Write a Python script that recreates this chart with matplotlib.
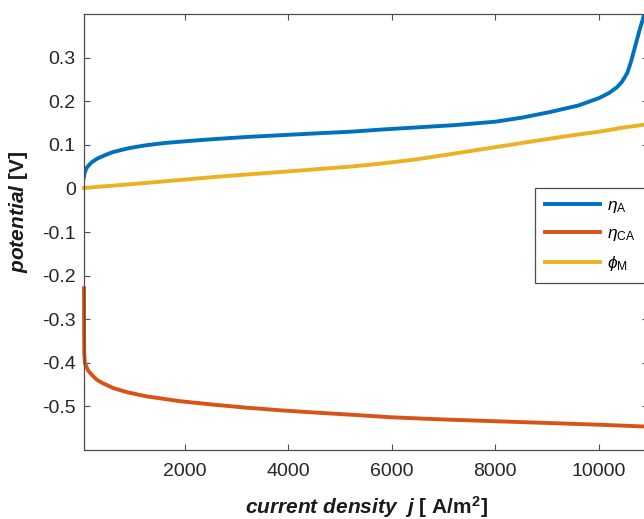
import matplotlib
matplotlib.use("Agg")
import matplotlib.pyplot as plt

# current density [A/m^2] and potentials [V]
j_eta_a = [50, 60, 100, 150, 200, 300, 450, 600, 800, 950, 1250, 1600, 2000,
           2550, 3200, 3850, 4500, 5200, 5800, 6500, 7200, 8000, 8500, 9050,
           9600, 10000, 10200, 10350, 10450, 10550, 10620, 10700, 10780,
           10860, 10920]
eta_a = [0.027, 0.035, 0.047, 0.054, 0.060, 0.068, 0.076, 0.083, 0.089,
         0.093, 0.099, 0.104, 0.108, 0.113, 0.118, 0.122, 0.126, 0.130,
         0.135, 0.140, 0.145, 0.153, 0.162, 0.175, 0.190, 0.207, 0.219,
         0.232, 0.245, 0.265, 0.290, 0.325, 0.360, 0.392, 0.420]

j_eta_ca = [50, 52, 55, 68, 130, 228, 300, 400, 615, 900, 1260, 1900, 2550,
            3200, 3850, 4500, 5200, 6000, 7000, 8000, 9000, 10000, 10860,
            10950]
eta_ca = [-0.229, -0.330, -0.378, -0.401, -0.418, -0.431, -0.439, -0.446,
          -0.458, -0.468, -0.477, -0.488, -0.496, -0.503, -0.509, -0.514,
          -0.519, -0.525, -0.530, -0.534, -0.538, -0.542, -0.546, -0.546]

j_phi_m = [50, 1300, 2650, 4000, 5200, 5800, 6500, 7100, 7750, 8400, 9050,
           9500, 10000, 10450, 10860, 10950]
phi_m = [0.001, 0.013, 0.027, 0.039, 0.050, 0.057, 0.067, 0.078, 0.090,
         0.102, 0.114, 0.122, 0.130, 0.139, 0.146, 0.148]

x_ticks = [2000, 4000, 6000, 8000, 10000]
y_ticks = [-0.5, -0.4, -0.3, -0.2, -0.1, 0, 0.1, 0.2, 0.3]
y_tick_labels = ["-0.5", "-0.4", "-0.3", "-0.2", "-0.1", "0", "0.1", "0.2", "0.3"]

plt.rcParams["font.family"] = ["Liberation Sans", "DejaVu Sans"]
plt.rcParams["mathtext.fontset"] = "custom"
plt.rcParams["mathtext.rm"] = "Liberation Sans"
plt.rcParams["mathtext.it"] = "Liberation Sans:italic"
plt.rcParams["mathtext.bf"] = "Liberation Sans:bold"
plt.rcParams["mathtext.bfit"] = "Liberation Sans:italic:bold"

fig = plt.figure(figsize=(6.44, 5.19), dpi=100)
ax = fig.add_axes([84 / 644, 69 / 519, 564 / 644, 436 / 519])

ax.plot(j_eta_a, eta_a, color="#0072BD", lw=2.8, label=r"$\eta_{\rm A}$")
ax.plot(j_eta_ca, eta_ca, color="#D95319", lw=2.8, label=r"$\eta_{\rm CA}$",
        clip_on=False)
ax.plot(j_phi_m, phi_m, color="#EDB120", lw=2.8, label=r"$\phi_{\rm M}$",
        clip_on=False)

ax.set_xlim(50, 10950)
ax.set_ylim(-0.6, 0.4)
ax.set_xticks(x_ticks)
ax.set_yticks(y_ticks)
ax.set_yticklabels(y_tick_labels)

for s in ax.spines.values():
    s.set_color("#4d4d4d")
    s.set_linewidth(0.9)
ax.tick_params(direction="in", top=True, right=True, length=4, width=0.8,
               color="#4d4d4d", labelcolor="#262626", labelsize=14)
ax.tick_params(axis="y", pad=6)
ax.tick_params(axis="x", pad=9)

ax.set_xlabel(r"$\mathbfit{current\ density\ \ j}$ [ A/m$^\mathbf{2}$]",
              fontsize=15, fontweight="bold", color="#1a1a1a")
ax.set_ylabel(r"$\mathbfit{potential}$ [V]", fontsize=15, fontweight="bold",
              color="#1a1a1a")
ax.xaxis.set_label_coords(0.5, -0.1)
ax.yaxis.set_label_coords(-0.095, 0.545)

leg = ax.legend(loc="upper left", bbox_to_anchor=(535 / 644, 1 - 188 / 519),
                bbox_transform=fig.transFigure, borderaxespad=0, fontsize=12.5,
                handlelength=3.2, handletextpad=0.4, labelspacing=0.65,
                borderpad=0.55, fancybox=False, framealpha=1)
leg.get_frame().set_edgecolor("#4d4d4d")
leg.get_frame().set_linewidth(0.9)

fig.savefig("out.png", dpi=100)
